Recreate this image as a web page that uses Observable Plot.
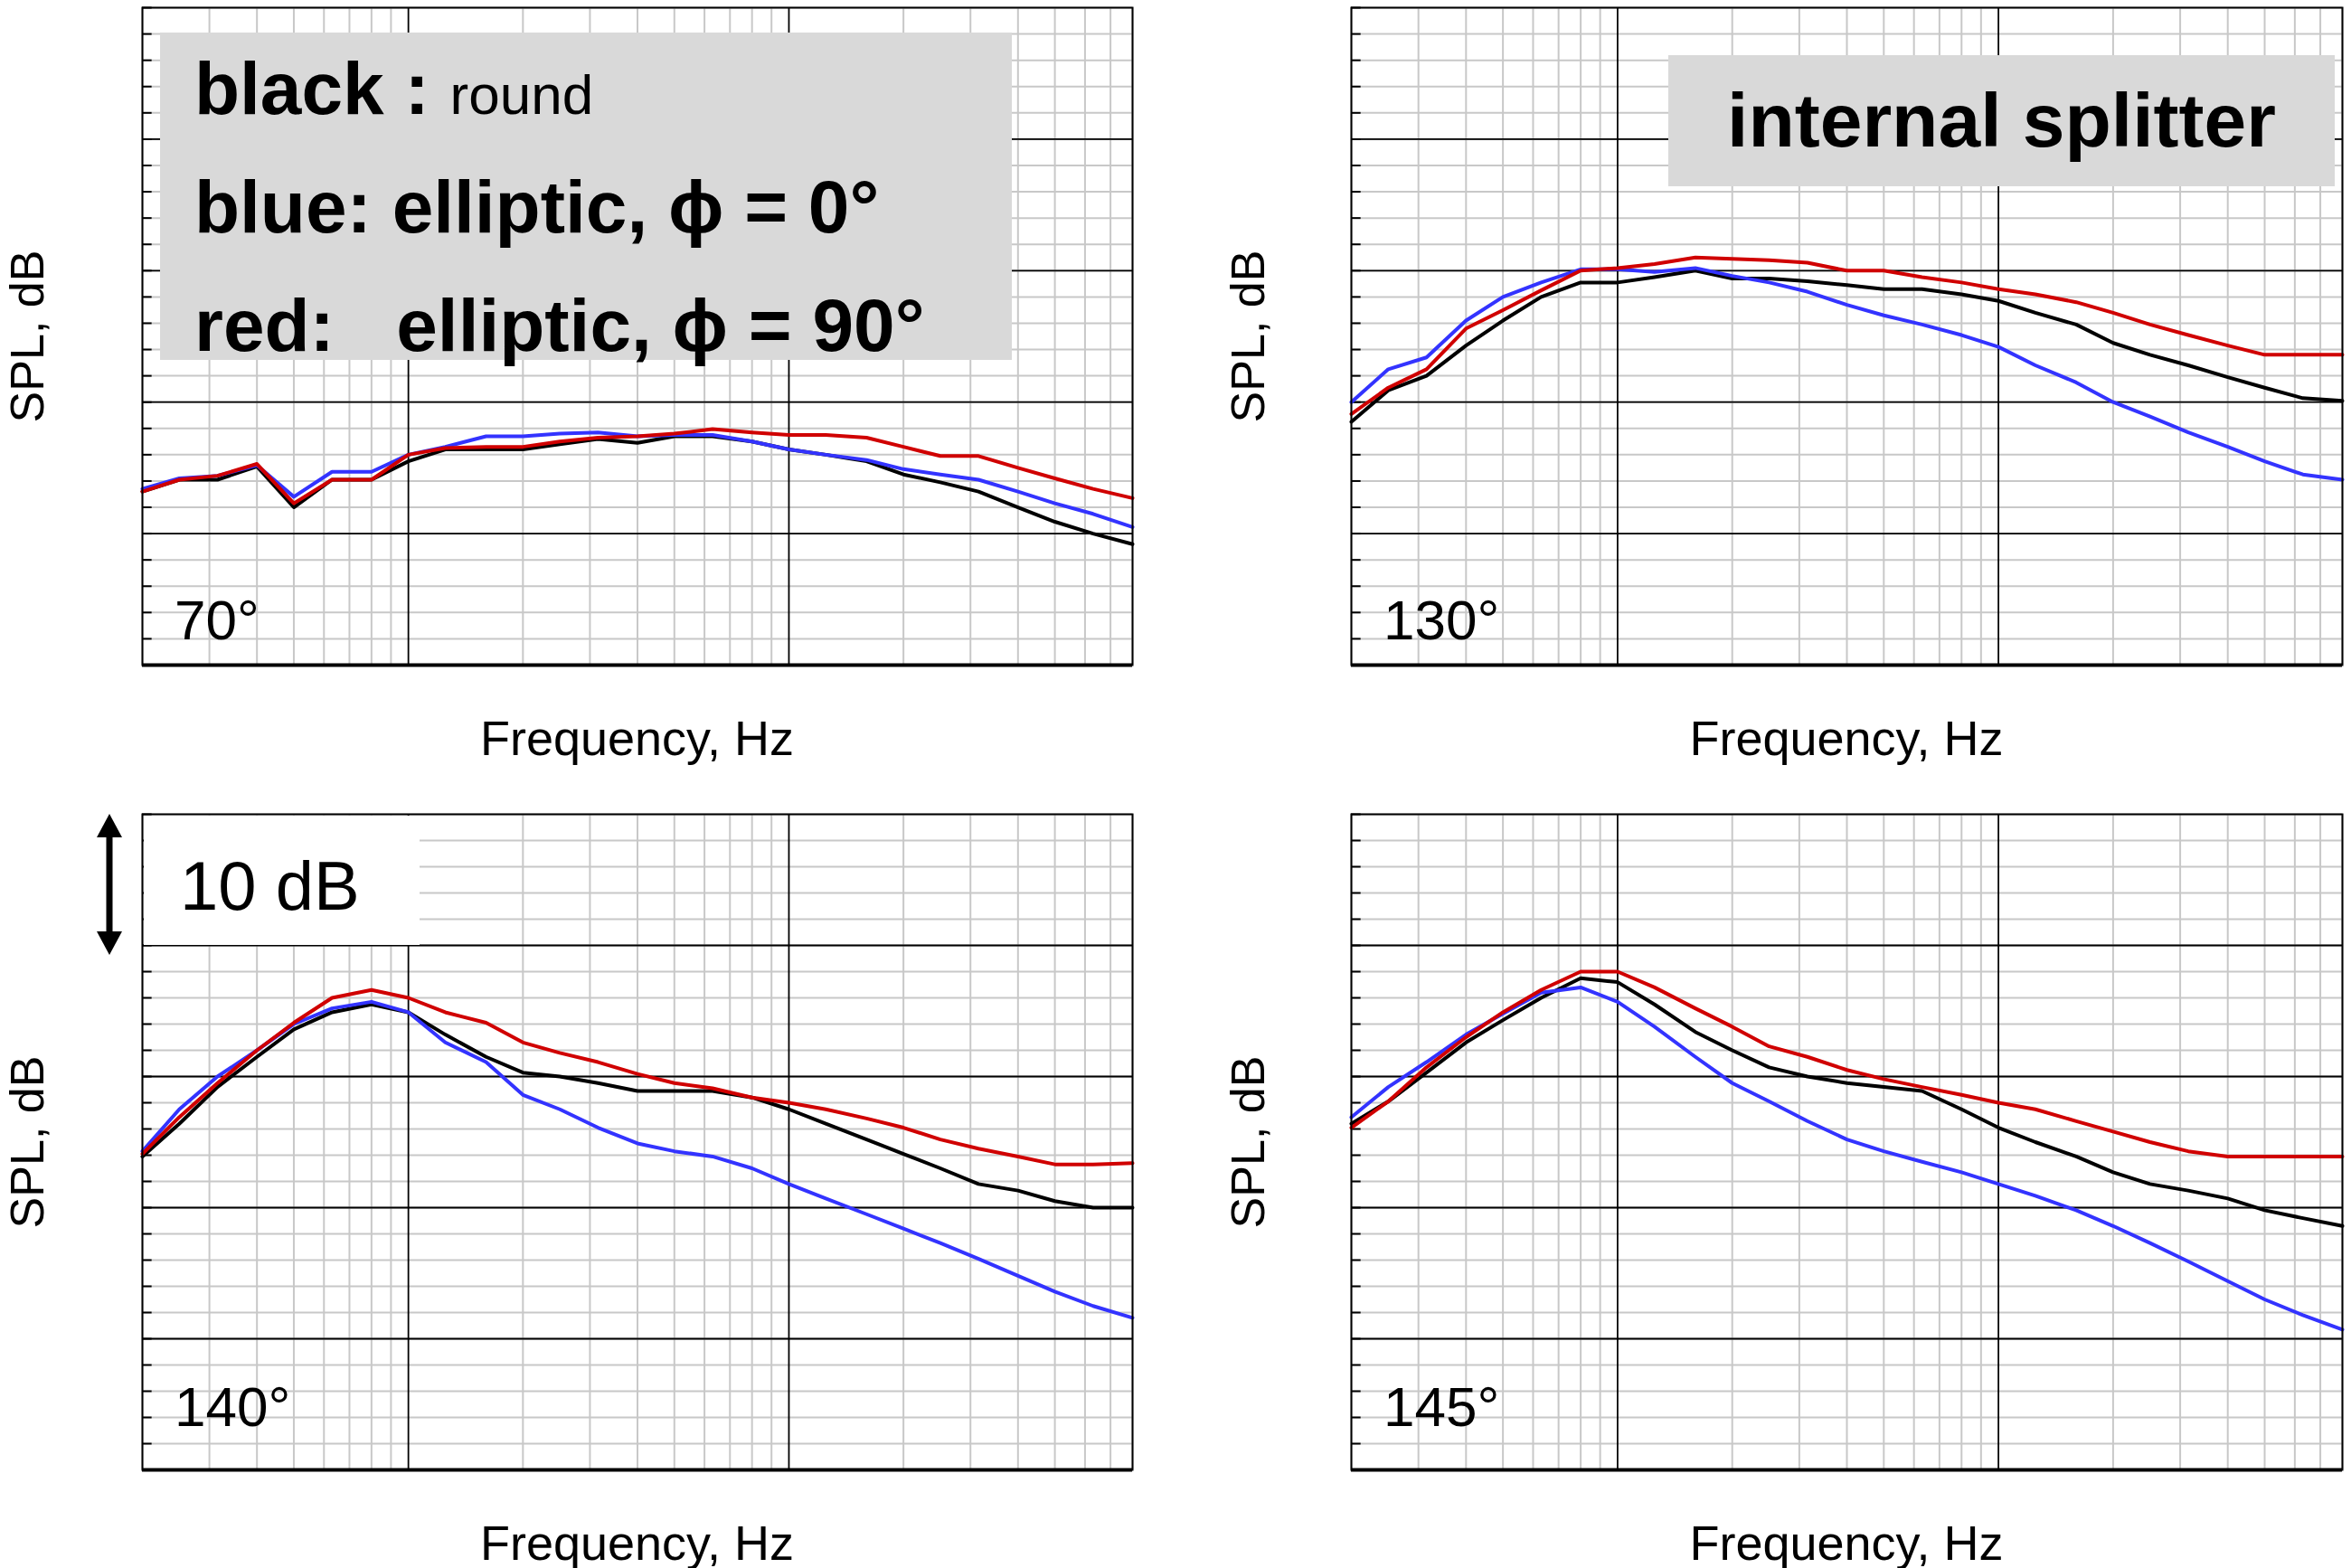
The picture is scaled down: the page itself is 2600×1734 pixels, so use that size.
<!DOCTYPE html>
<html><head><meta charset="utf-8">
<script src="https://cdn.jsdelivr.net/npm/d3@7"></script>
<script src="https://cdn.jsdelivr.net/npm/@observablehq/plot@0.6"></script>
<style>
body{margin:0;background:#fff;width:2600px;height:1734px;position:relative;overflow:hidden;font-family:"Liberation Sans",Arial,sans-serif}
.p{position:absolute}
.t{position:absolute;white-space:nowrap;color:#000}
</style></head><body>
<script>
const freqs=[200,250,315,400,500,630,800,1000,1250,1600,2000,2500,3150,4000,5000,6300,8000,10000,12500,16000,20000,25000,31500,40000,50000,63000,80000];
const panels=["70°","130°","140°","145°"];
const black70=[13.2,14.1,14.1,15.1,12.0,14.1,14.1,15.5,16.4,16.4,16.4,16.8,17.2,16.9,17.4,17.4,17.0,16.4,16.0,15.5,14.5,13.9,13.2,12.0,10.9,10.0,9.2];
const blue70=[13.4,14.2,14.4,15.2,12.8,14.7,14.7,16.0,16.6,17.4,17.4,17.6,17.7,17.4,17.5,17.5,17.0,16.4,16.0,15.6,14.9,14.5,14.1,13.2,12.3,11.5,10.5];
const red70=[13.2,14.1,14.4,15.3,12.3,14.1,14.1,16.0,16.5,16.6,16.6,17.0,17.3,17.4,17.6,17.95,17.7,17.5,17.5,17.3,16.6,15.9,15.9,15.0,14.2,13.4,12.7];
const black130=[18.5,20.9,22.0,24.3,26.2,28.0,29.1,29.1,29.5,30.0,29.4,29.4,29.2,28.9,28.6,28.6,28.2,27.7,26.8,25.9,24.5,23.6,22.8,21.9,21.1,20.3,20.1];
const blue130=[20.0,22.5,23.4,26.2,28.0,29.1,30.1,30.1,29.9,30.2,29.6,29.1,28.4,27.4,26.6,25.9,25.1,24.2,22.8,21.5,20.0,18.9,17.7,16.6,15.5,14.5,14.1];
const red130=[19.1,21.1,22.5,25.6,27.0,28.5,30.0,30.2,30.5,31.0,30.9,30.8,30.6,30.0,30.0,29.5,29.1,28.6,28.2,27.6,26.8,25.9,25.1,24.3,23.6,23.6,23.6];
const black140=[23.9,26.4,29.2,31.5,33.6,34.9,35.5,34.9,33.2,31.5,30.3,30.0,29.5,28.9,28.9,28.9,28.4,27.5,26.4,25.2,24.1,23.0,21.8,21.3,20.5,20.0,20.0];
const blue140=[24.3,27.5,30.0,32.0,34.0,35.2,35.7,34.9,32.6,31.1,28.6,27.5,26.1,24.9,24.3,23.9,23.0,21.8,20.7,19.5,18.4,17.3,16.1,14.8,13.6,12.5,11.6];
const red140=[24.1,26.9,29.5,32.0,34.1,36.0,36.6,36.0,34.9,34.1,32.6,31.8,31.1,30.2,29.5,29.1,28.4,28.0,27.5,26.8,26.1,25.2,24.5,23.9,23.3,23.3,23.4];
const black145=[26.4,28.1,30.3,32.6,34.3,36.0,37.5,37.2,35.5,33.4,32.0,30.7,30.0,29.5,29.2,28.9,27.5,26.1,25.0,23.9,22.7,21.8,21.3,20.7,19.8,19.2,18.6];
const blue145=[26.9,29.2,31.1,33.2,34.8,36.4,36.8,35.7,33.8,31.5,29.5,28.1,26.6,25.2,24.3,23.5,22.7,21.8,20.9,19.8,18.6,17.3,15.9,14.4,13.0,11.8,10.7];
const red145=[26.1,28.1,30.7,33.0,34.9,36.6,38.0,38.0,36.8,35.2,33.8,32.3,31.5,30.5,29.8,29.2,28.6,28.0,27.5,26.6,25.8,25.0,24.3,23.9,23.9,23.9,23.9];
const series=[[black70,blue70,red70],[black130,blue130,red130],[black140,blue140,red140],[black145,blue145,red145]];
const seriesColors=["#000000","#3333ff","#d00000"];
const majorX=[1000,10000];
const xTickLabels=["10³","10⁴"];

const minorX=[];
for(const dec of [100,1000,10000]) for(let m=2;m<=9;m++){const f=m*dec; if(f>=200&&f<=80000&&f!==1000&&f!==10000) minorX.push(f);}
const minorY=d3.range(0,51,2);
const majorY=[10,20,30,40];

const geom=[
 {left:0,top:0,ml:157,mr:48,mt:8,mb:132},
 {left:1300,top:0,ml:194,mr:10,mt:8,mb:132},
 {left:0,top:867,ml:157,mr:48,mt:33,mb:109},
 {left:1300,top:867,ml:194,mr:10,mt:33,mb:109}];

panels.forEach((name,i)=>{
  const g=geom[i];
  const rows=[];
  series[i].forEach((arr,k)=>arr.forEach((v,j)=>rows.push({f:freqs[j],v,k})));
  const plot=Plot.plot({
    width:1300,height:867,marginLeft:g.ml,marginRight:g.mr,marginTop:g.mt,marginBottom:g.mb,
    x:{type:"log",domain:[200,80000],axis:null},
    y:{domain:[0,50],axis:null},
    style:{background:"transparent"},
    marks:[
      Plot.ruleX(minorX,{stroke:"#c8c8c8",strokeWidth:2}),
      Plot.ruleY(minorY,{stroke:"#c8c8c8",strokeWidth:2}),
      Plot.ruleX(majorX,{stroke:"#000",strokeWidth:1.8}),
      Plot.ruleY(majorY,{stroke:"#000",strokeWidth:1.8}),
      Plot.ruleY(minorY,{x1:200,x2:212,stroke:"#000",strokeWidth:2}),
      Plot.axisX({ticks:majorX,tickSize:0,tickPadding:14,tickFormat:(d,j)=>xTickLabels[j],fontSize:40,label:null,fontFamily:"Liberation Sans Narrow, Liberation Sans, sans-serif"}),
      Plot.line(rows,{x:"f",y:"v",z:"k",stroke:d=>seriesColors[d.k],strokeWidth:4,curve:"linear"}),
      Plot.frame({stroke:"#000",strokeWidth:2}),
      Plot.ruleY([0],{stroke:"#000",strokeWidth:4})
    ]
  });
  plot.classList.add("p");
  plot.style.left=g.left+"px"; plot.style.top=g.top+"px";
  document.body.appendChild(plot);
  const cx=g.left+g.ml+(1300-g.ml-g.mr)/2;
  const lab=document.createElement("div");lab.className="t";lab.textContent="Frequency, Hz";
  lab.style.cssText+=`left:${cx}px;top:${g.top+867-g.mb+50}px;transform:translateX(-50%);font-size:54px;font-family:'Liberation Sans Narrow','Liberation Sans',sans-serif;`;
  document.body.appendChild(lab);
  const yl=document.createElement("div");yl.className="t";yl.textContent="SPL, dB";
  const cy=g.top+g.mt+(867-g.mt-g.mb)/2;
  yl.style.cssText+=`left:${g.left+(i%2?1380-1300:30)}px;top:${cy}px;transform:translate(-50%,-50%) rotate(-90deg);font-size:52px;`;
  document.body.appendChild(yl);
  const al=document.createElement("div");al.className="t";al.textContent=name;
  al.style.cssText+=`left:${g.left+g.ml+36}px;top:${g.top+(i<2?650:1520-867)}px;font-size:62px;font-family:'Liberation Sans Narrow','Liberation Sans',sans-serif;`;
  document.body.appendChild(al);
});

function add(html,css){const d=document.createElement("div");d.className="t";d.innerHTML=html;d.style.cssText+=css;document.body.appendChild(d);return d;}
add(`<div style="line-height:108px"><b style="font-size:82px">black : </b><span style="font-size:62px">round</span><br><b style="font-size:82px">blue: elliptic, ϕ = 0°</b><br><b style="font-size:82px">red:&nbsp;&nbsp; elliptic, ϕ = 90°</b></div>`,
 "left:177px;top:36px;width:942px;height:362px;background:#d9d9d9;padding:8px 0 0 38px;box-sizing:border-box;font-family:'Liberation Sans Narrow','Liberation Sans',sans-serif;");
add(`<b>internal splitter</b>`,"left:1845px;top:61px;width:737px;height:145px;background:#d9d9d9;font-size:84px;display:flex;align-items:center;justify-content:center;font-family:'Liberation Sans Narrow','Liberation Sans',sans-serif;");
add(`10 dB`,"left:159px;top:902px;width:305px;height:143px;background:#fff;font-size:76px;padding:34px 0 0 40px;box-sizing:border-box;");
add(`<svg width="40" height="156"><line x1="20" y1="20" x2="20" y2="136" stroke="#000" stroke-width="7"/><polygon points="20,0 6,26 34,26" fill="#000"/><polygon points="20,156 6,130 34,130" fill="#000"/></svg>`,"left:101px;top:900px;");
</script>
</body></html>
